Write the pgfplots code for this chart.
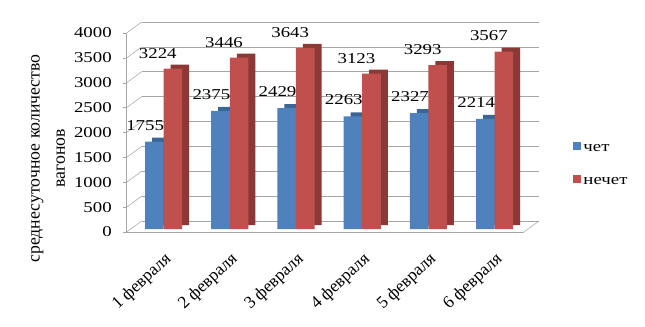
\documentclass[border=0pt]{standalone}
\usepackage{fontspec}
\setmainfont{Liberation Serif}
\newfontfamily\wide[FakeStretch=1.25]{Liberation Serif}
\usepackage{pgfplots}
\pgfplotsset{compat=1.18}
\definecolor{cblue}{HTML}{4F81BD}
\definecolor{cred}{HTML}{C0504D}
\definecolor{dblue}{HTML}{3A6594}
\definecolor{dred}{HTML}{8C3836}
\definecolor{gridc}{HTML}{A6A6A6}
\begin{document}
\begin{tikzpicture}[x=1pt,y=1pt]
\path[use as bounding box] (0,0) rectangle (483.75,244.5);
\begin{axis}[
  at={(95pt,70.5pt)}, anchor=south west, scale only axis,
  width=298pt, height=149.25pt,
  xmin=-0.5, xmax=5.5, ymin=0, ymax=4000,
  clip=false,
  axis lines*=left,
  axis line style={gridc},
  ytick={0,500,...,4000},
  xtick={0,1,2,3,4,5},
  xticklabels={1 февраля,2 февраля,3 февраля,4 февраля,5 февраля,6 февраля},
  extra x ticks={-0.5,0.5,1.5,2.5,3.5,4.5,5.5},
  extra x tick labels={},
  extra x tick style={major tick length=4pt, tick style={gridc}},
  tick align=outside,
  x tick style={draw=none},
  y tick style={gridc},
  major tick length=3pt,
  ymajorgrids,
  major grid style={gridc, xshift=11.25pt, yshift=8.25pt},
  /pgf/number format/assume math mode=true,
  /pgf/number format/1000 sep={},
  yticklabel style={font=\wide\fontsize{11.3}{13}\selectfont, inner sep=1pt, xshift=-7pt},
  xticklabel style={font=\fontsize{13}{15}\selectfont, rotate=43, anchor=north east, inner sep=1pt, xshift=-4.5pt, yshift=-9pt},
  every axis y label/.style={at={(axis description cs:-0.20,0.37)}, rotate=90, anchor=center, inner sep=0pt, font=\fontsize{13.3}{19}\selectfont},
  ylabel={\begin{tabular}{@{}c@{}}среднесуточное количество\\вагонов\end{tabular}},
  legend cell align=left,
  legend style={at={(axis description cs:1.112,0.47)}, anchor=north west, draw=none, fill=none,
    font=\wide\fontsize{11.3}{13}\selectfont, row sep=14pt,
    nodes={inner xsep=2pt}},
  legend image code/.code={\fill[#1] (0pt,-3pt) rectangle (6pt,3pt);},
]
\pgfplotsinvokeforeach{0,500,1000,1500,2000,2500,3000,3500,4000}{
  \draw[gridc] (axis cs:-0.5,#1) -- ++(11.25pt,8.25pt);
}
\draw[gridc] (axis cs:5.5,0) -- ++(11.25pt,8.25pt);
% blue
\addplot[ybar, bar width=0.28, bar shift=-0.083, fill=dblue, draw=none, xshift=5.25pt, yshift=5.25pt, forget plot]
  coordinates {(0,1755) (1,2375) (2,2429) (3,2263) (4,2327) (5,2214)};
\addplot[ybar, bar width=0.28, bar shift=-0.083, fill=cblue, draw=none, yshift=2.25pt,
  nodes near coords, nodes near coords style={font=\wide\fontsize{11.3}{13}\selectfont, anchor=center, yshift=12.4pt, xshift=-11pt, text=black}]
  coordinates {(0,1755) (1,2375) (2,2429) (3,2263) (4,2327) (5,2214)};
\addlegendentry{чет}
% red
\addplot[ybar, bar width=0.28, bar shift=0.197, fill=dred, draw=none, xshift=5.25pt, yshift=5.25pt, forget plot]
  coordinates {(0,3224) (1,3446) (2,3643) (3,3123) (4,3293) (5,3567)};
\addplot[ybar, bar width=0.28, bar shift=0.197, fill=cred, draw=none, yshift=2.25pt,
  nodes near coords, nodes near coords style={font=\wide\fontsize{11.3}{13}\selectfont, anchor=center, yshift=11.6pt, xshift=-1.5pt, text=black}]
  coordinates {(0,3224) (1,3446) (2,3643) (3,3123) (4,3293) (5,3567)};
\addlegendentry{нечет}
\end{axis}
\end{tikzpicture}
\end{document}
